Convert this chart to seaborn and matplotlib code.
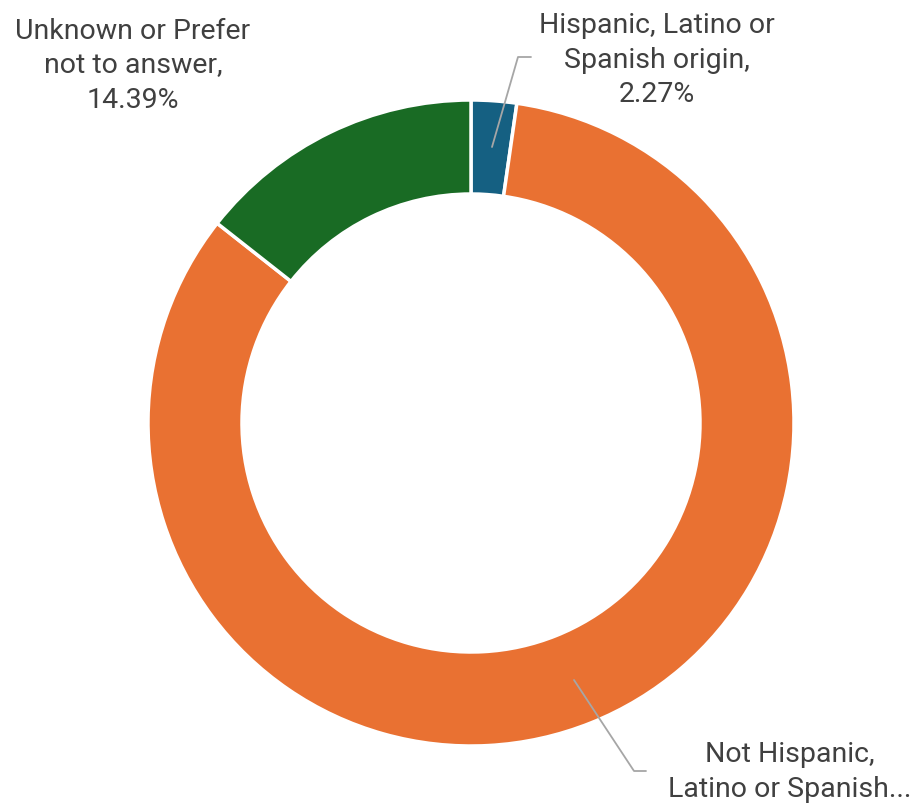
import matplotlib
matplotlib.use("Agg")
import matplotlib.pyplot as plt
import seaborn as sns

categories = ["Hispanic, Latino or Spanish origin", "Not Hispanic, Latino or Spanish origin", "Unknown or Prefer not to answer"]
values = [2.27, 83.34, 14.39]
colors = ["#156082", "#E97132", "#196B24"]
label_texts = ["Hispanic, Latino or\nSpanish origin,\n2.27%",
               "Not Hispanic,\nLatino or Spanish...",
               "Unknown or Prefer\nnot to answer,\n14.39%"]

sns.set_theme(style="white")
plt.rcParams['font.family'] = ['Roboto', 'DejaVu Sans']

W, H = 922, 812
fig = plt.figure(figsize=(W / 100, H / 100), dpi=100)
ax = fig.add_axes([0, 0, 1, 1])

cx, cy, R = 471, 424, 323
wedges, _ = ax.pie(values, colors=colors, startangle=-90, counterclock=True,
                   center=(cx, cy), radius=R, frame=True,
                   wedgeprops=dict(width=94, edgecolor="white", linewidth=2.5))
ax.set_xlim(0, W)
ax.set_ylim(H, 0)
ax.axis("off")
ax.set_aspect("equal")

txt_color = "#404040"
line_color = "#A6A6A6"
fs = 20.5
ls = 1.35
ax.text(657, 60, label_texts[0], ha="center", va="center", fontsize=fs, color=txt_color, linespacing=ls)
ax.text(790, 772, label_texts[1], ha="center", va="center", fontsize=fs, color=txt_color, linespacing=ls)
ax.text(133, 66, label_texts[2], ha="center", va="center", fontsize=fs, color=txt_color, linespacing=ls)

ax.plot([492, 518, 531], [148, 58, 58], color=line_color, lw=1.3)
ax.plot([574, 634, 646], [681, 772, 772], color=line_color, lw=1.3)

fig.savefig("out.png", dpi=100, facecolor="white")
